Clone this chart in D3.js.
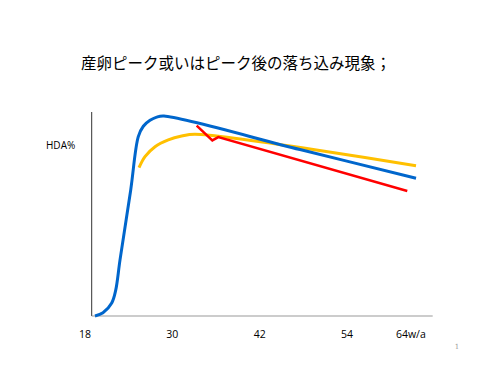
<!DOCTYPE html>
<html>
<head>
<meta charset="utf-8">
<script src="https://cdn.jsdelivr.net/npm/d3@7"></script>
<style>
  body { margin: 0; background: #fff; }
  svg { display: block; }
</style>
</head>
<body>
<script>
// chart values (x = weeks of age, y = HDA% on 0-100)
var titleText = "産卵ピーク或いはピーク後の落ち込み現象；";
var yLabel = "HDA%";
var tickWeeks = [18, 30, 42, 54, 64];
var tickLabels = ["18", "30", "42", "54", "64w/a"];

var blueWeeks = [19.37, 20.47, 21.67, 22.22, 22.81, 24.28, 25.32, 26.01, 26.93, 27.85, 28.85, 47.53, 63.47];
var blueHda   = [0, 1.6, 6.4, 12.7, 27.5, 61.8, 87.9, 93.0, 95.9, 97.5, 98.0, 81.6, 67.5];

var yellowWeeks = [25.42, 26.24, 27.62, 29.44, 31.28, 33.11, 63.47];
var yellowHda   = [72.7, 78.1, 83.0, 86.3, 88.2, 89.1, 73.7];

var redWeeks = [33.34, 35.49, 36.31, 62.27];
var redHda   = [93.3, 86.1, 87.7, 61.3];

var axisStartWeek = 18.92;
var axisEndWeek = 65.76;

var width = 499;
var height = 374;

var svg = d3.select('body')
    .append('svg')
    .attr('width', width)
    .attr('height', height);

var x = d3.scaleLinear()
    .domain([18, 64])
    .range([85, 85 + 46 * 7.28]);

var y = d3.scaleLinear()
    .domain([0, 100])
    .range([316, 112]);

// title
svg.append('text')
    .attr('x', 81)
    .attr('y', 69)
    .attr('font-family', '"Noto Sans CJK JP", sans-serif')
    .attr('font-size', 15.5)
    .attr('fill', '#000')
    .text(titleText);

// axes
svg.append('line')
    .attr('x1', x(axisStartWeek)).attr('x2', x(axisStartWeek))
    .attr('y1', y(100)).attr('y2', y(0))
    .attr('stroke', '#333')
    .attr('stroke-width', 1);

svg.append('line')
    .attr('x1', x(axisStartWeek)).attr('x2', x(axisEndWeek))
    .attr('y1', y(0)).attr('y2', y(0))
    .attr('stroke', '#999')
    .attr('stroke-width', 1);

svg.append('text')
    .attr('x', 46)
    .attr('y', 149)
    .attr('font-family', '"Open Sans", sans-serif')
    .attr('font-size', 10)
    .attr('fill', '#000')
    .text(yLabel);

svg.selectAll('.tick-label')
    .data(tickWeeks)
    .enter()
    .append('text')
    .attr('class', 'tick-label')
    .attr('x', function(d) { return x(d); })
    .attr('dx', function(d, i) { return i === tickWeeks.length - 1 ? -9 : 0; })
    .attr('y', 338)
    .attr('text-anchor', 'middle')
    .attr('font-family', '"Open Sans", sans-serif')
    .attr('font-size', 10.5)
    .attr('fill', '#000')
    .text(function(d, i) { return tickLabels[i]; });

function pts(ws, vs) {
    return ws.map(function(w, i) { return [w, vs[i]]; });
}

var smooth = d3.line()
    .x(function(d) { return x(d[0]); })
    .y(function(d) { return y(d[1]); })
    .curve(d3.curveCatmullRom.alpha(0.5));

var straight = d3.line()
    .x(function(d) { return x(d[0]); })
    .y(function(d) { return y(d[1]); });

svg.append('path')
    .attr('d', smooth(pts(yellowWeeks, yellowHda)))
    .attr('fill', 'none')
    .attr('stroke', '#FFC000')
    .attr('stroke-width', 3);

svg.append('path')
    .attr('d', straight(pts(redWeeks, redHda)))
    .attr('fill', 'none')
    .attr('stroke', '#FF0000')
    .attr('stroke-width', 2.5);

svg.append('path')
    .attr('d', smooth(pts(blueWeeks, blueHda)))
    .attr('fill', 'none')
    .attr('stroke', '#0066CC')
    .attr('stroke-width', 3);

// slide number
svg.append('text')
    .attr('x', 457)
    .attr('y', 349)
    .attr('text-anchor', 'middle')
    .attr('font-family', '"DejaVu Serif", serif')
    .attr('font-size', 7)
    .attr('fill', '#999')
    .text('1');
</script>
</body>
</html>
